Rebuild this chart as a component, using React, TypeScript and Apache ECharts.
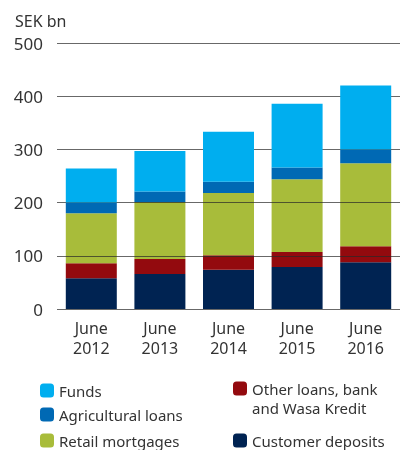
import React, { useEffect, useRef } from "react";
import * as echarts from "echarts";

const categories = ["June\n2012", "June\n2013", "June\n2014", "June\n2015", "June\n2016"];
const customerDeposits = [58, 66, 74, 79, 88];
const otherLoans = [28, 28, 27, 28, 30];
const retailMortgages = [94, 107, 117, 137, 156];
const agriculturalLoans = [20, 20, 21, 22, 26];
const funds = [64, 76, 94, 120, 120];
const yTicks = [0, 100, 200, 300, 400, 500];

const FONT = "'Noto Sans', sans-serif";
const TEXT = "#333333";

export default function App() {
  const ref = useRef<HTMLDivElement>(null);
  useEffect(() => {
    const chart = echarts.init(ref.current!, null, { renderer: "svg" });
    const legendBase = {
      orient: "horizontal",
      icon: "roundRect",
      itemWidth: 14,
      itemHeight: 14,
      padding: 0,
      selectedMode: false,
      textStyle: { fontFamily: FONT, fontSize: 15, color: TEXT },
    };
    const mk = (name: string, color: string, data: number[], extra: any = {}) => ({
      name,
      type: "bar",
      stack: "total",
      barWidth: 51,
      itemStyle: { color },
      data,
      ...extra,
    });
    chart.setOption({
      animation: false,
      grid: { left: 57, top: 43, width: 350, height: 266 },
      xAxis: {
        type: "category",
        data: categories,
        axisLine: { show: false },
        axisTick: { show: false },
        axisLabel: { fontFamily: FONT, fontSize: 16, color: TEXT, lineHeight: 20, margin: 9 },
      },
      yAxis: {
        type: "value",
        min: 0,
        max: 500,
        interval: 100,
        splitLine: { show: false },
        axisLine: { show: false },
        axisTick: { show: false },
        axisLabel: { fontFamily: FONT, fontSize: 17, color: TEXT, margin: 14, padding: [0, 0, 6, 0] },
      },
      legend: [
        { ...legendBase, data: ["Funds"], left: 40, top: 383 },
        { ...legendBase, data: ["Agricultural loans"], left: 40, top: 407 },
        { ...legendBase, data: ["Retail mortgages"], left: 40, top: 433 },
        {
          ...legendBase,
          data: ["Other loans, bank and Wasa Kredit"],
          left: 233,
          top: 381,
          formatter: () => "Other loans, bank",
        },
        { ...legendBase, data: ["Customer deposits"], left: 233, top: 433 },
      ],
      graphic: [
        {
          type: "text",
          left: 15,
          top: 13,
          style: { text: "SEK bn", fontFamily: FONT, fontSize: 16, fill: TEXT },
        },
        {
          type: "text",
          left: 252,
          top: 400,
          style: { text: "and Wasa Kredit", fontFamily: FONT, fontSize: 15, fill: TEXT },
        },
      ],
      series: [
        mk("Customer deposits", "#002352", customerDeposits),
        mk("Other loans, bank and Wasa Kredit", "#930A0E", otherLoans),
        mk("Retail mortgages", "#A8BC3A", retailMortgages),
        mk("Agricultural loans", "#0069B4", agriculturalLoans),
        mk("Funds", "#00AEEF", funds, {
          z: 5,
          markLine: {
            silent: true,
            symbol: "none",
            label: { show: false },
            lineStyle: { type: "solid", color: "rgba(40,40,40,0.7)", width: 1.2 },
            data: yTicks.map((v) => ({ yAxis: v })),
          },
        }),
      ],
    });
    return () => chart.dispose();
  }, []);
  return <div ref={ref} style={{ position: "fixed", left: 0, top: 0, width: 400, height: 450 }} />;
}
